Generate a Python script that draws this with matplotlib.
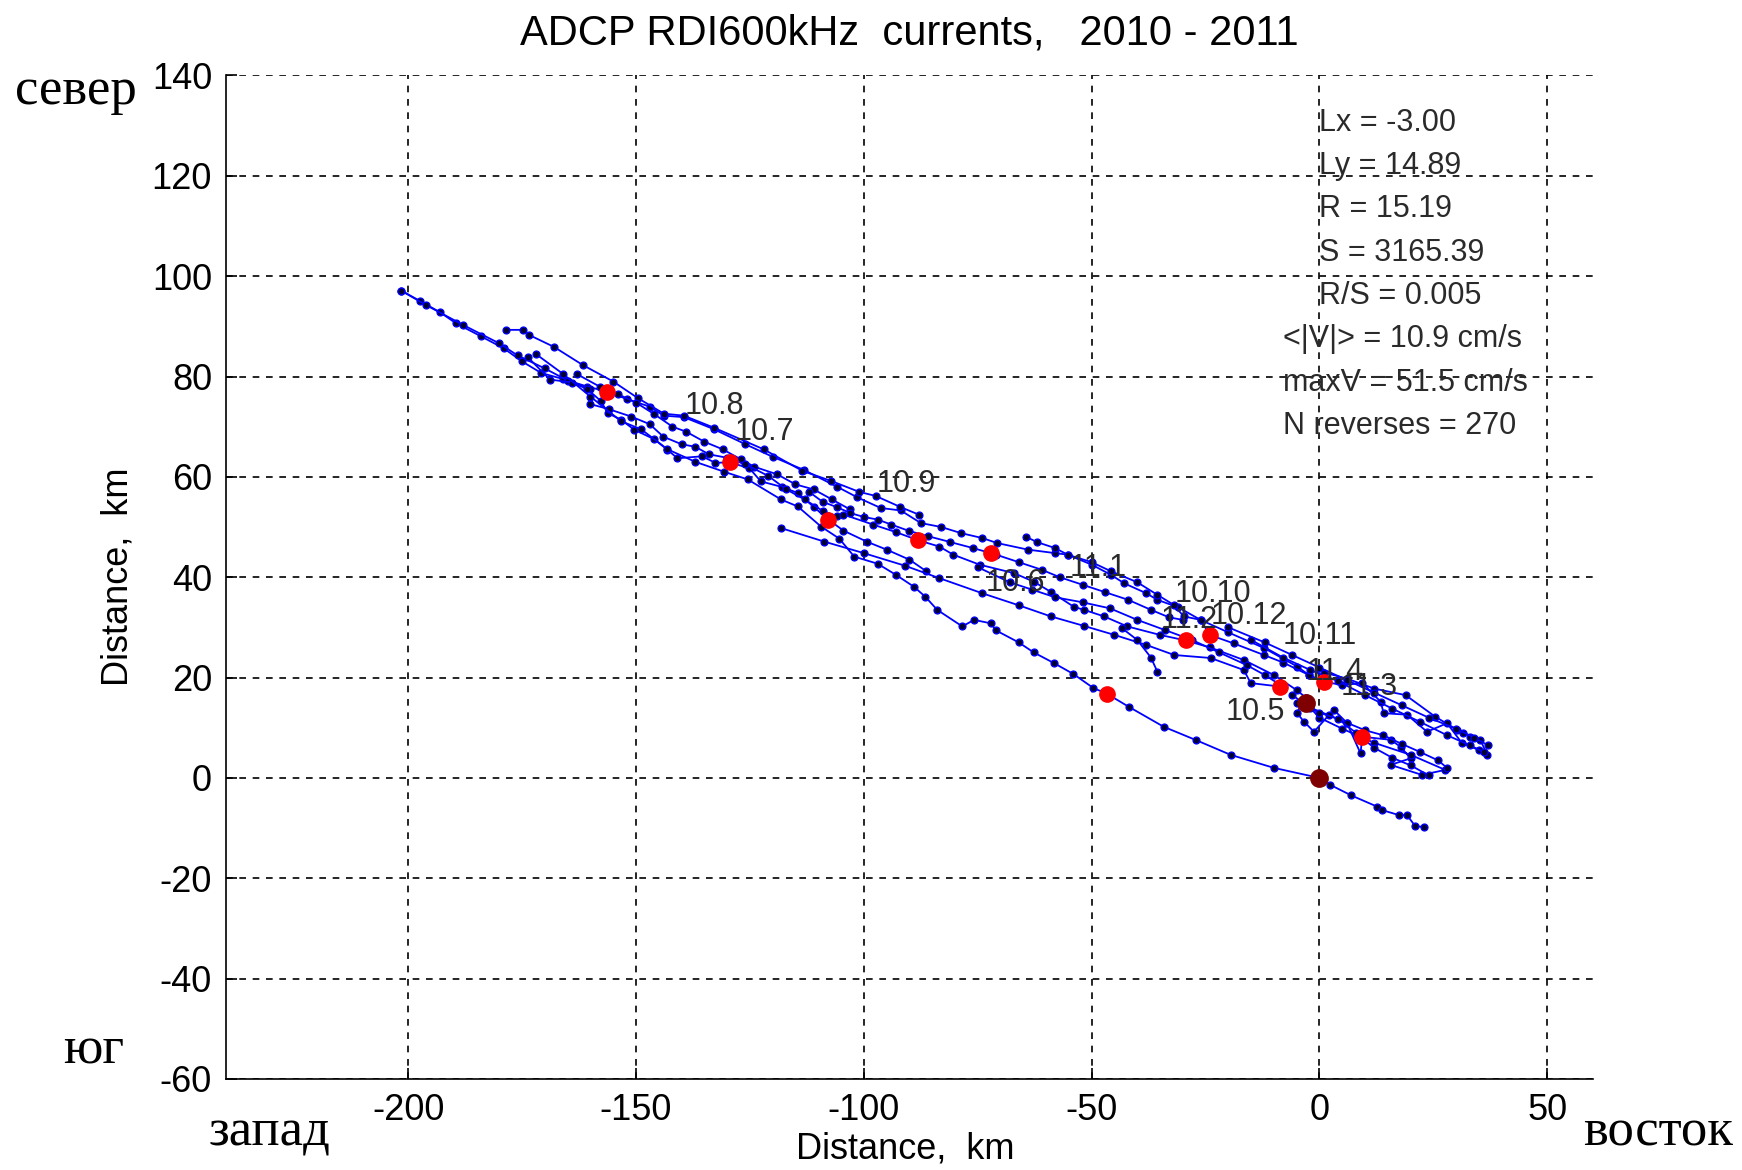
import matplotlib
matplotlib.use("Agg")
import matplotlib.pyplot as plt

# track pieces of the progressive vector diagram (km east, km north)
strand_nw = [(-201.5, 97.1), (-197.3, 95.0), (-193, 92.8), (-189.5, 90.6), (-184, 88), (-179, 85.6),
             (-175, 83), (-170.8, 80.7), (-166, 79.5), (-160.7, 78.0), (-156.4, 77.0)]
strand_nw_back = [(-201.5, 97.1), (-196, 94.2), (-188, 90.3), (-180, 86.6), (-176, 84.2), (-170, 81.6),
                  (-165, 79.2), (-160, 77.6)]
strand_top = [(-156.4, 77.0), (-152, 75.5), (-147, 74), (-143.9, 72.2), (-139.5, 71.9), (-132.9, 69.5),
              (-126, 66.5), (-120, 64), (-113.2, 61.4), (-105.8, 58.0), (-101.4, 55.9), (-96.3, 53.8),
              (-91.9, 53.3), (-87.5, 50.8), (-83, 50), (-78.7, 48.8), (-74, 47.8), (-70.7, 46.8),
              (-64, 45.5), (-58, 44.8), (-55.3, 44.5), (-50, 42.5), (-45.8, 40.5), (-42.9, 38.8),
              (-38, 36.8), (-35.6, 35.5), (-31, 34), (-26.1, 31.5), (-20, 29), (-12.2, 25.9),
              (-4.9, 22.2), (-2.3, 20.5), (0.9, 19.2)]
strand_upper = [(-178.5, 89.3), (-174.9, 89.3), (-173.5, 88.3), (-168, 85.9), (-161.7, 82.3), (-155, 79),
                (-149.6, 75.7), (-143.9, 72.6), (-139.5, 72.2), (-132.9, 69.8), (-122, 65.5), (-113.5, 61.2),
                (-107.2, 59.2), (-101, 57), (-97.4, 56.2), (-92, 54), (-88, 52.5)]
strand_mid = [(-173.8, 83.9), (-168.9, 79.4), (-164, 78.8), (-160.7, 77.5), (-157.7, 75.1), (-156.2, 72.7),
              (-153.3, 71.4), (-150.4, 69.4), (-146, 67.5), (-143.1, 65.4), (-140.9, 63.7), (-135.5, 64.1),
              (-132.6, 62.8), (-129.4, 62.9), (-125.1, 61.7), (-122.6, 59.1), (-118, 58), (-114.5, 56.8),
              (-111, 54), (-107.8, 51.5), (-104.5, 49.3), (-99.4, 47.1), (-95, 45.5), (-90, 43.5),
              (-86.3, 41.2)]
strand_loop1 = [(-163, 80.5), (-158, 78), (-154, 76.5), (-150, 74.8), (-146, 72.5), (-142, 70), (-139, 69),
                (-135, 67), (-131, 65.5), (-127, 63.5), (-124, 62), (-119, 60.5), (-115, 58.5), (-111, 57.5),
                (-107, 55.5), (-103, 53.5)]
strand_loop2 = [(-160, 74.5), (-156, 73.5), (-151, 72), (-147, 70.5), (-144, 68), (-140, 66.5), (-137, 66),
                (-134, 64.5), (-130, 63.8), (-126, 62.5), (-121, 60.2), (-117, 57.5), (-113, 55.5),
                (-109, 53.2), (-106, 52.2)]
strand_low = [(-172, 84.5), (-166, 80.5), (-160, 76), (-153.3, 71.1), (-148.9, 69.5), (-143.1, 65.5),
              (-137, 63), (-130.6, 61), (-125.5, 59.5), (-118.2, 55.5), (-114.5, 54.1), (-109.4, 50.1),
              (-105.4, 47.7), (-102.1, 44.1), (-97, 42.7), (-93, 40.5), (-89, 38.1), (-86.5, 36.1),
              (-83.9, 33.5), (-78.4, 30.2), (-75.8, 31.5), (-72.1, 30.8), (-71, 29.4), (-66, 27),
              (-62.7, 25.0), (-58.3, 22.9), (-54, 20.7), (-49.6, 17.9), (-46.7, 16.8), (-41.9, 14.2),
              (-34.2, 10.2), (-27, 7.5), (-19.5, 4.6), (-10, 2.0), (0, 0), (2.4, -1.4), (7, -3.5),
              (12.6, -5.7), (13.7, -6.4), (17.4, -7.4), (19.2, -7.4), (21, -9.6), (23, -9.8)]
strand_cross = [(-118.2, 49.8), (-108.7, 47.1), (-100, 44.8), (-91, 42.3), (-83.4, 39.8), (-74, 36.8),
                (-66, 34.4), (-59, 32.2), (-51.7, 30.3), (-45, 28.5), (-38, 26.5), (-31.9, 24.5),
                (-23.9, 23.9), (-16.6, 21.5), (-15.1, 18.9), (-8.6, 18.2)]
strand_mid2 = [(-104.5, 52.5), (-98, 50.5), (-93, 49), (-88.2, 47.4), (-83.4, 46.1), (-80.4, 44.5),
               (-74.6, 42.5), (-67, 40.8), (-62.7, 39.1), (-59, 37.1), (-53.9, 34.1), (-51.7, 33.5),
               (-47.3, 32.2), (-42.2, 30.2), (-35, 28.5), (-29.4, 27.4), (-24, 26), (-16.6, 23.5),
               (-10, 20.5), (-5, 17.5), (-3, 16)]
strand_mid3 = [(-112, 57), (-109, 55), (-106, 54), (-103, 52.8), (-100, 52), (-97, 51.5), (-94, 50.5),
               (-90, 49.2), (-86, 48.2), (-81, 47), (-76, 45.8), (-71, 44.5), (-66, 43), (-61, 41.5),
               (-57, 40), (-52, 38.5), (-47, 37), (-42, 35.5), (-37, 33.5), (-33, 32), (-30, 31.5)]
strand_mid4 = [(-75, 42), (-68, 39), (-63, 37.5), (-58, 36), (-52, 35), (-46, 33.8), (-40, 31.5),
               (-34, 29.5), (-28, 27.5), (-22, 25), (-16, 22.5), (-12, 20.5), (-8, 18.2)]
strand_jan = [(-64.5, 48.1), (-62, 47), (-58, 45.8), (-55.3, 44.5), (-50, 43), (-45.8, 41.2), (-40, 39),
              (-35.6, 36.5), (-32, 34.5), (-29.8, 32.2), (-26.1, 31.5), (-24.1, 28.5), (-18.8, 26.8),
              (-12.2, 24.5), (-8, 23), (-2.3, 20.5)]
strand_se_up = [(0.9, 19.2), (5, 18.5), (9.4, 18.9), (13.4, 15.2), (14.1, 12.9), (19.2, 12.6), (23.6, 9.2),
                (28, 10.9), (31.3, 6.9), (34.9, 5.6), (36.8, 4.6), (35.3, 7.6), (33.1, 8.2), (31.6, 8.9),
                (30.2, 9.6), (25.4, 12.2), (18.9, 16.5), (12, 17.8), (6, 19.8), (1, 21)]
strand_se_up2 = [(-20, 30), (-12, 27), (-6, 24.5), (0, 22), (6, 19.5), (12, 17), (18, 14.5), (24, 12),
                 (30, 9.8), (34, 8), (37, 6.5)]
strand_se_up3 = [(-15, 27.5), (-8, 24), (-2, 21.5), (4, 19.3), (10, 16.5), (16, 13.8), (22, 11.2),
                 (28, 8.5), (33, 6.5), (36, 5.2)]
strand_se_low = [(-3, 16), (-5, 13), (-3.4, 11.2), (-1.2, 9.2), (3.1, 13.6), (6, 11), (9, 4.9), (9.4, 8.2),
                 (15.6, 7.6), (17.8, 6.2), (20, 3.9), (15.6, 2.6), (22.5, 0.6), (27.6, 1.6), (20, 4.6),
                 (12, 7), (5, 9.8), (0, 12), (-3.0, 14.89)]
strand_se_low2 = [(-6, 16.5), (-2, 14), (2, 12.5), (6, 11), (10, 9.5), (14, 8.5), (18, 6.8), (22, 5.2),
                  (26, 3.5), (28, 2)]
strand_se_low3 = [(-5, 15), (0, 13), (4, 11.8), (8, 9), (12, 6), (16, 4), (20, 2.5), (24, 0.5)]
strand_short = [(-43.3, 29.8), (-40, 27.5), (-37, 24), (-35.6, 21.2)]

tracks = [strand_nw, strand_nw_back, strand_top, strand_upper, strand_mid, strand_loop1, strand_loop2,
          strand_low, strand_cross, strand_mid2, strand_mid3, strand_mid4, strand_jan, strand_se_up,
          strand_se_up2, strand_se_up3, strand_se_low, strand_se_low2, strand_se_low3, strand_short]

# monthly markers
month_x = [-156.4, -129.4, -107.8, -88.2, -72.0, -46.7, -29.4, -24.1, -8.6, 0.9, 9.4]
month_y = [77.0, 62.9, 51.5, 47.4, 44.8, 16.8, 27.4, 28.5, 18.2, 19.2, 8.2]
ends_x = [0.0, -3.0]
ends_y = [0.0, 14.89]

month_labels = ['10.8', '10.7', '10.9', '10.6', '11.1', '10.10', '11.2', '10.12', '10.11', '11.4', '11.3', '10.5']
label_x = [-139.3, -128.3, -97.3, -73.3, -54.9, -31.7, -34.9, -23.9, -8.2, -2.9, 4.6, -20.6]
label_y = [74.2, 68.9, 58.5, 38.8, 41.9, 36.6, 31.5, 32.2, 28.2, 21.2, 18.2, 13.2]

stats_a = ['Lx = -3.00', 'Ly = 14.89', 'R = 15.19', 'S = 3165.39', 'R/S = 0.005']
stats_b = ['<|V|> = 10.9 cm/s', 'maxV = 51.5 cm/s', 'N reverses = 270']
stats_a_y = [130.5, 121.9, 113.3, 104.6, 96.0]
stats_b_y = [87.4, 78.8, 70.2]

xticks = [-200, -150, -100, -50, 0, 50]
yticks = [-60, -40, -20, 0, 20, 40, 60, 80, 100, 120, 140]

plt.rcParams['font.family'] = ['Liberation Sans', 'DejaVu Sans']
plt.rcParams['axes.unicode_minus'] = False

fig = plt.figure(figsize=(17.42, 11.70), dpi=100)
ax = fig.add_axes([0.1297, 0.0778, 0.7847, 0.8577])

for tr in tracks:
    xs = [p[0] for p in tr]
    ys = [p[1] for p in tr]
    ax.plot(xs, ys, '-', color='blue', lw=1.3, marker='o', ms=5,
            mfc='#000033', mec='blue', mew=0.9, zorder=3)

ax.plot(month_x, month_y, 'o', color='red', ms=11, zorder=4)
ax.plot(ends_x, ends_y, 'o', color='#7f0000', ms=12.5, zorder=4)

for t, x, y in zip(month_labels, label_x, label_y):
    ax.text(x, y, t, fontsize=22, color='#2a2a2a', ha='left', va='center', zorder=5)

for t, y in zip(stats_a, stats_a_y):
    ax.text(0, y, t, fontsize=22, color='#2a2a2a', ha='left', va='center')
for t, y in zip(stats_b, stats_b_y):
    ax.text(-8, y, t, fontsize=22, color='#2a2a2a', ha='left', va='center')

ax.set_xlim(-240, 60)
ax.set_ylim(-60, 140)
ax.set_xticks(xticks)
ax.set_yticks(yticks)
ax.grid(True, color='black', linestyle=(0, (4, 4)), lw=1.2)
ax.set_axisbelow(True)
ax.spines['top'].set_visible(False)
ax.spines['right'].set_visible(False)
ax.spines['left'].set_linewidth(1.2)
ax.spines['bottom'].set_linewidth(1.2)
ax.tick_params(direction='in', length=8, width=1.2, labelsize=26, pad=10)

ax.set_title('ADCP RDI600kHz  currents,   2010 - 2011', fontsize=30, pad=22)
ax.set_xlabel('Distance,  km', fontsize=26)
ax.set_ylabel('Distance,  km', fontsize=26)
ax.xaxis.set_label_coords(0.497, -0.052)
ax.yaxis.set_label_coords(-0.066, 0.5)

serif = ['Liberation Serif', 'DejaVu Serif']
fig.text(76 / 1742, 1 - 91 / 1170, 'север', family=serif, fontsize=38, ha='center', va='center')
fig.text(94 / 1742, 1 - 1050 / 1170, 'юг', family=serif, fontsize=38, ha='center', va='center')
fig.text(270 / 1742, 1 - 1133 / 1170, 'запад', family=serif, fontsize=38, ha='center', va='center')
fig.text(1658 / 1742, 1 - 1133 / 1170, 'восток', family=serif, fontsize=38, ha='center', va='center')

fig.savefig('out.png', dpi=100)
